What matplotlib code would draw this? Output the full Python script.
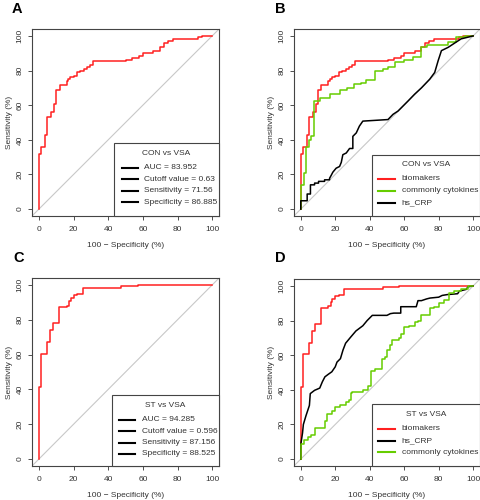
import matplotlib
matplotlib.use("Agg")
import matplotlib.pyplot as plt
from matplotlib.patches import Rectangle

plt.rcParams["font.family"] = ["Liberation Sans", "DejaVu Sans"]

RED   = "#ff2020"
GREEN = "#66cd00"
BLACK = "#000000"
GREY  = "#c8c8c8"
TEXT  = "#333333"
FS    = 6

# ── CON vs VSA ────────────────────────────────────────────────────────────────
con_bio_x = [0, 0, 1.4, 3.5, 4.8, 6.8, 8.7, 10, 12, 16, 17, 18, 20, 22, 24, 26,
             28, 29.6, 31.4, 50.4, 54, 58, 60, 66, 70, 72, 74.6, 77.5, 92, 94, 100]
con_bio_y = [0, 32, 36, 43, 53, 56, 60.5, 69, 71.5, 74, 75.4, 76, 77, 79, 80, 81,
             82, 83, 85.3, 86, 87, 88.5, 90, 91.5, 93.4, 95.7, 97.3, 98.3, 99.2, 100, 100]

con_cyt_x = [0, 0, 1.6, 3.1, 5, 6, 7.6, 10.9, 16.7, 22.5, 27, 31, 35, 38, 42.8,
             47.7, 50.6, 54.5, 60, 65, 70, 73, 85.5, 90, 95, 100]
con_cyt_y = [0, 14, 20.7, 36, 40, 42, 62.4, 64.3, 66.3, 69, 70, 72, 73, 74.6, 79.8,
             80.8, 82, 84.7, 86, 88, 93.4, 94.8, 96.3, 99.2, 100, 100]

con_crp_x = [0, 0, 3.7, 3.7, 5.6, 5.6, 8, 8, 10.3, 10.3, 13.8, 13.8, 16.7, 16.7,
             17.6, 18.6, 20.5, 22.5, 23.5, 24.4, 26.4, 28.3, 30.2, 30.2, 32.2, 34,
             36, 50.6, 53.5, 56.4, 59.3, 62.2, 66, 70, 74.8, 77.7, 79.7, 81.6, 85.5,
             88.4, 93, 100]
con_crp_y = [0, 4.8, 4.8, 8.7, 8.7, 14, 14, 15, 15, 16, 16, 16.9, 16.9, 17.8,
             19.4, 21.3, 23.6, 24.6, 27, 31.4, 32.4, 35, 35, 42, 44, 47.9,
             50.8, 51.7, 54.7, 56.6, 59.5, 62.4, 66.3, 70, 75, 78.9, 85.7, 91.5, 93.4,
             95.3, 98.3, 100]

# ── ST vs VSA ─────────────────────────────────────────────────────────────────
st_bio_x = [0, 0, 1.4, 4.8, 6.4, 8.3, 11.6, 16, 17.4, 18.4, 20, 21.9, 25.2, 47.5, 57, 100]
st_bio_y = [0, 41.5, 60.5, 67, 74, 78, 87.2, 88.2, 90.7, 92.6, 94, 94.8, 98.3, 99.2, 100, 100]

st_cyt_x = [0, 0, 2, 4, 6, 8, 14, 15, 18, 20, 23, 26, 28, 29, 30, 36, 39, 41, 43,
            47, 49, 50, 52, 53, 57, 58, 60, 63, 66, 68, 70, 75, 77, 80, 83, 86,
            89, 93, 97, 100]
st_cyt_y = [0, 8.5, 11, 13, 14, 18, 22, 26, 28, 30, 31, 33, 34, 38, 39, 40, 42, 51, 52,
            58, 59, 63, 66, 69, 70, 72, 76, 77, 79, 80, 83, 87, 88, 90, 92, 96,
            97, 98, 100, 100]

st_crp_x = [0, 0, 1, 1.5, 3, 5, 5.5, 8, 11, 12.5, 14, 16, 18, 20, 21, 23, 24.5, 26,
            29, 32, 36, 38.5, 40, 41.5, 50, 52, 54, 58, 58, 67, 68, 70, 73, 75, 80,
            82, 85, 91, 92, 96, 97, 100]
st_crp_y = [0, 8.5, 15, 20, 25, 31, 37.8, 39.7, 41, 44.6, 47.5, 49, 50.4, 53.3, 56, 58,
            63, 66.9, 70.5, 74, 77, 80, 81.5, 83, 83, 84, 84.3, 84.3, 88, 88, 91.5,
            91.5, 92.5, 93, 93.5, 94.5, 95, 95.5, 97, 98, 99.5, 100]

TICKS = [0, 20, 40, 60, 80, 100]

stats_a = ["AUC = 83.952", "Cutoff value = 0.63", "Sensitivity = 71.56", "Specificity = 86.885"]
stats_c = ["AUC = 94.285", "Cutoff value = 0.596", "Sensitivity = 87.156", "Specificity = 88.525"]


def style_axes(ax):
    ax.set_xlim(-4, 104)
    ax.set_ylim(-4, 104)
    ax.axline((0, 0), (100, 100), color=GREY, lw=0.8, zorder=1)
    ax.set_xticks(TICKS)
    ax.set_yticks(TICKS)
    ax.set_yticklabels([str(t) for t in TICKS], rotation=90, va="center")
    ax.tick_params(labelsize=FS, colors=TEXT, length=3, width=0.6)
    ax.tick_params(axis="x", pad=4)
    ax.tick_params(axis="y", pad=3)
    for s in ax.spines.values():
        s.set_color("#444444")
        s.set_linewidth(0.8)
    ax.set_xlabel("100 \u2212 Specificity (%)", fontsize=FS, color=TEXT, labelpad=6.5)
    ax.set_ylabel("Sensitivity (%)", fontsize=FS, color=TEXT, labelpad=2.5)


def draw_legend(ax, title, colors, labels, left, top, title_y, row1, dy,
                lx0, lx1, tx):
    # R-style boxed legend in the bottom-right corner (axes fractions)
    tr = ax.transAxes
    ax.add_patch(Rectangle((left, 0), 1 - left, top, transform=tr,
                           facecolor="white", edgecolor="#444444", lw=0.8,
                           zorder=5, clip_on=False))
    ax.text((left + 1) / 2, title_y, title, transform=tr, fontsize=FS,
            color=TEXT, ha="center", va="center", zorder=6)
    for i, (c, lab) in enumerate(zip(colors, labels)):
        y = row1 - i * dy
        ax.plot([lx0, lx1], [y, y], transform=tr, color=c, lw=1.5,
                zorder=6, clip_on=False)
        ax.text(tx, y, lab, transform=tr, fontsize=FS, color=TEXT,
                ha="left", va="center", zorder=6)


fig = plt.figure(figsize=(4.81, 5.0), dpi=100)
axA = fig.add_axes([0.0665, 0.568, 0.389, 0.374])
axB = fig.add_axes([0.611, 0.568, 0.387, 0.374])
axC = fig.add_axes([0.0665, 0.068, 0.389, 0.376])
axD = fig.add_axes([0.611, 0.068, 0.387, 0.374])

for ax in (axA, axB, axC, axD):
    style_axes(ax)

# A
axA.step(con_bio_x, con_bio_y, where="post", color=RED, lw=1.1, zorder=3)
draw_legend(axA, "CON vs VSA", [BLACK] * 4, stats_a,
            0.4385, 0.39, 0.332, 0.257, 0.061, 0.481, 0.567, 0.599)

# B
axB.step(con_bio_x, con_bio_y, where="post", color=RED, lw=1.1, zorder=3)
axB.step(con_cyt_x, con_cyt_y, where="post", color=GREEN, lw=1.1, zorder=3)
axB.plot(con_crp_x, con_crp_y, color=BLACK, lw=1.1, zorder=3)
draw_legend(axB, "CON vs VSA", [RED, GREEN, BLACK],
            ["biomakers", "commonly cytokines", "hs_CRP"],
            0.419, 0.326, 0.278, 0.198, 0.064, 0.452, 0.543, 0.58)

# C
axC.step(st_bio_x, st_bio_y, where="post", color=RED, lw=1.1, zorder=3)
draw_legend(axC, "ST vs VSA", [BLACK] * 4, stats_c,
            0.428, 0.378, 0.324, 0.245, 0.060, 0.465, 0.551, 0.588)

# D
axD.step(st_bio_x, st_bio_y, where="post", color=RED, lw=1.1, zorder=3)
axD.plot(st_crp_x, st_crp_y, color=BLACK, lw=1.1, zorder=3)
axD.step(st_cyt_x, st_cyt_y, where="post", color=GREEN, lw=1.1, zorder=3)
draw_legend(axD, "ST vs VSA", [RED, BLACK, GREEN],
            ["biomakers", "hs_CRP", "commonly cytokines"],
            0.419, 0.332, 0.278, 0.198, 0.0625, 0.452, 0.543, 0.58)

for lbl, x, y in [("A", 12, 13), ("B", 275, 13), ("C", 13, 262), ("D", 275, 262)]:
    fig.text(x / 481, 1 - y / 500, lbl, fontsize=10.5, fontweight="bold",
             ha="left", va="baseline")

fig.savefig("out.png", dpi=100)
